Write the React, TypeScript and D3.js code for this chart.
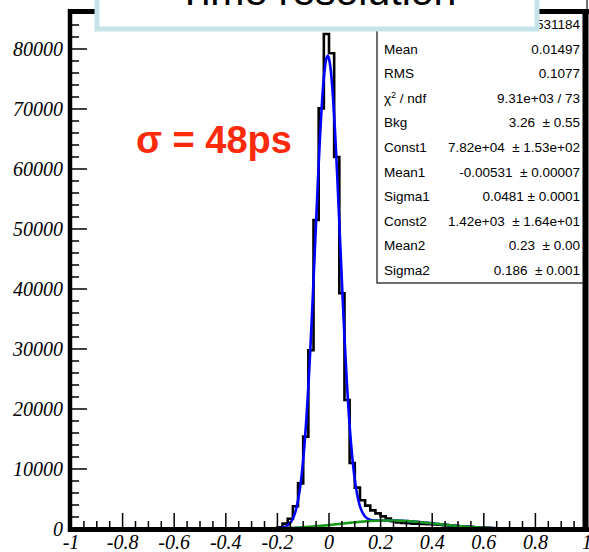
import React from "react";
import * as d3 from "d3";

const W = 589;
const H = 552;

// Histogram: 100 bins on [-1, 1]
const histRange = [-1, 1];
const binCounts = [
  0, 0, 0, 0, 0, 0, 0, 0, 0, 0,
  0, 0, 0, 0, 0, 0, 0, 0, 0, 0,
  0, 0, 0, 0, 0, 0, 0, 0, 0, 0,
  2, 2, 3, 3, 4, 5, 8, 15, 30, 60,
  300, 900, 1700, 3800, 7600, 15400, 29800, 51500, 70100, 82500,
  79300, 62000, 39300, 21500, 11000, 6900, 4800, 3900, 3100, 2600,
  2100, 1750, 1300, 1100, 1000, 950, 900, 900, 850, 800,
  750, 700, 650, 600, 520, 460, 400, 350, 300, 250,
  200, 160, 120, 90, 70, 50, 40, 30, 20, 15,
  10, 8, 6, 5, 5, 4, 4, 3, 3, 3,
];

// Fit parameters (from the stats box)
const fitBkg = 3.26;
const fitConst = [78200, 1420];
const fitMean = [-0.00531, 0.23];
const fitSigma = [0.0481, 0.186];
const fitRange = [-0.8, 0.8];

const xTickValues = [-1, -0.8, -0.6, -0.4, -0.2, 0, 0.2, 0.4, 0.6, 0.8, 1];
const xTickLabels = ["-1", "-0.8", "-0.6", "-0.4", "-0.2", "0", "0.2", "0.4", "0.6", "0.8", "1"];
const yTickValues = [0, 10000, 20000, 30000, 40000, 50000, 60000, 70000, 80000];
const yTickLabels = ["0", "10000", "20000", "30000", "40000", "50000", "60000", "70000", "80000"];

const statNames = ["Entries", "Mean", "RMS", "CHI2", "Bkg", "Const1", "Mean1", "Sigma1", "Const2", "Mean2", "Sigma2"];
const statValues = [
  "531184",
  "0.01497",
  "0.1077",
  "9.31e+03 / 73",
  "3.26  \u00b1 0.55",
  "7.82e+04  \u00b1 1.53e+02",
  "-0.00531  \u00b1 0.00007",
  "0.0481 \u00b1 0.0001",
  "1.42e+03  \u00b1 1.64e+01",
  "0.23  \u00b1 0.00",
  "0.186  \u00b1 0.001",
];

const titleText = "Time resolution";
const annotation = "\u03c3 = 48ps";

export default function App() {
  const x = d3.scaleLinear().domain([-1, 1]).range([71, 587]);
  const y = d3.scaleLinear().domain([0, 86400]).range([529, 10.6]);

  const nBins = binCounts.length;
  const bw = (histRange[1] - histRange[0]) / nBins;
  const histPts: [number, number][] = binCounts.map((c, i) => [histRange[0] + i * bw, c]);
  histPts.push([histRange[1], binCounts[nBins - 1]]);
  const histPath = d3
    .line<[number, number]>()
    .x((d) => x(d[0]))
    .y((d) => y(d[1]))
    .curve(d3.curveStepAfter)(histPts);

  const gaus = (v: number, k: number) =>
    fitConst[k] * Math.exp(-((v - fitMean[k]) ** 2) / (2 * fitSigma[k] ** 2));
  const samples = d3.range(fitRange[0], fitRange[1] + 1e-9, 0.0025);
  const fitLine = d3
    .line<number>()
    .x((v) => x(v))
    .curve(d3.curveLinear);
  const bluePath = fitLine.y((v) => y(fitBkg + gaus(v, 0) + gaus(v, 1)))(samples);
  const greenPath = fitLine.y((v) => y(fitBkg + gaus(v, 1)))(samples);

  const xMinor = d3.range(-1, 1.0001, 0.05).filter((v) => Math.abs(v * 5 - Math.round(v * 5)) > 1e-6);
  const yMinor = d3.range(0, 86001, 2000).filter((v) => v % 10000 !== 0);

  const y0 = y(0);
  const xL = x(-1);

  const statBase = (i: number) => 29 + i * 24.6;

  return (
    <svg
      width={W}
      height={H}
      style={{ position: "absolute", left: 0, top: 0, background: "#fff" }}
      xmlns="http://www.w3.org/2000/svg"
    >
      <rect x={0} y={0} width={W} height={H} fill="#fff" />
      {/* histogram */}
      <path d={histPath || ""} fill="none" stroke="#000" strokeWidth={2.6} />
      {/* fit curves */}
      <path d={bluePath || ""} fill="none" stroke="#0000ff" strokeWidth={2.6} />
      <path d={greenPath || ""} fill="none" stroke="#179b17" strokeWidth={2.6} />

      {/* ticks */}
      {xTickValues.map((v) => (
        <line key={"xM" + v} x1={x(v)} x2={x(v)} y1={y0} y2={y0 - 16} stroke="#000" strokeWidth={1.5} />
      ))}
      {xMinor.map((v) => (
        <line key={"xm" + v} x1={x(v)} x2={x(v)} y1={y0} y2={y0 - 8} stroke="#000" strokeWidth={1.5} />
      ))}
      {yTickValues.map((v) => (
        <line key={"yM" + v} x1={xL} x2={xL + 16} y1={y(v)} y2={y(v)} stroke="#000" strokeWidth={1.5} />
      ))}
      {yMinor.map((v) => (
        <line key={"ym" + v} x1={xL} x2={xL + 8} y1={y(v)} y2={y(v)} stroke="#000" strokeWidth={1.5} />
      ))}

      {/* stats box */}
      <rect x={377} y={-5} width={210} height={288} fill="#fff" stroke="#222" strokeWidth={1.3} />
      {statNames.map((n, i) => (
        <text
          key={"sn" + n}
          x={384}
          y={statBase(i)}
          fontFamily="'Liberation Sans', Arial, sans-serif"
          fontSize={13.5}
          fill="#000"
        >
          {n === "CHI2" ? (
            <>
              {"\u03c7"}
              <tspan dy={-5} fontSize={9}>2</tspan>
              <tspan dy={5}>{" / ndf"}</tspan>
            </>
          ) : (
            n
          )}
        </text>
      ))}
      {statValues.map((v, i) => (
        <text
          key={"sv" + i}
          x={580}
          y={statBase(i)}
          textAnchor="end"
          fontFamily="'Liberation Sans', Arial, sans-serif"
          fontSize={13.5}
          fill="#000"
          style={{ whiteSpace: "pre" }}
        >
          {v}
        </text>
      ))}

      {/* frame */}
      <line x1={68} x2={589} y1={11.5} y2={11.5} stroke="#000" strokeWidth={5} />
      <line x1={70} x2={70} y1={9} y2={532} stroke="#000" strokeWidth={4.5} />
      <line x1={585.5} x2={585.5} y1={9} y2={532} stroke="#000" strokeWidth={6} />
      <line x1={68} x2={589} y1={529.5} y2={529.5} stroke="#000" strokeWidth={5} />

      {/* axis labels */}
      {xTickValues.map((v, i) => (
        <text
          key={"xl" + v}
          x={x(v)}
          y={549}
          textAnchor="middle"
          fontFamily="'Liberation Serif', 'Times New Roman', serif"
          fontStyle="italic"
          fontSize={20}
          fill="#000"
        >
          {xTickLabels[i]}
        </text>
      ))}
      {yTickValues.map((v, i) => (
        <text
          key={"yl" + v}
          x={63}
          y={y(v) + 7}
          textAnchor="end"
          fontFamily="'Liberation Serif', 'Times New Roman', serif"
          fontStyle="italic"
          fontSize={20}
          fill="#000"
        >
          {yTickLabels[i]}
        </text>
      ))}

      {/* title box */}
      <rect x={97} y={-30} width={440} height={59} fill="#fff" stroke="#c6e4e7" strokeWidth={5} />
      <text
        x={317}
        y={4.5}
        textAnchor="middle"
        fontFamily="'Liberation Sans', Arial, sans-serif"
        fontSize={41}
        fill="#000"
      >
        {titleText}
      </text>

      {/* annotation */}
      <text
        x={136}
        y={153}
        fontFamily="'Liberation Sans', Arial, sans-serif"
        fontWeight="bold"
        fontSize={38}
        fill="#ff2a0a"
      >
        {annotation}
      </text>
    </svg>
  );
}
